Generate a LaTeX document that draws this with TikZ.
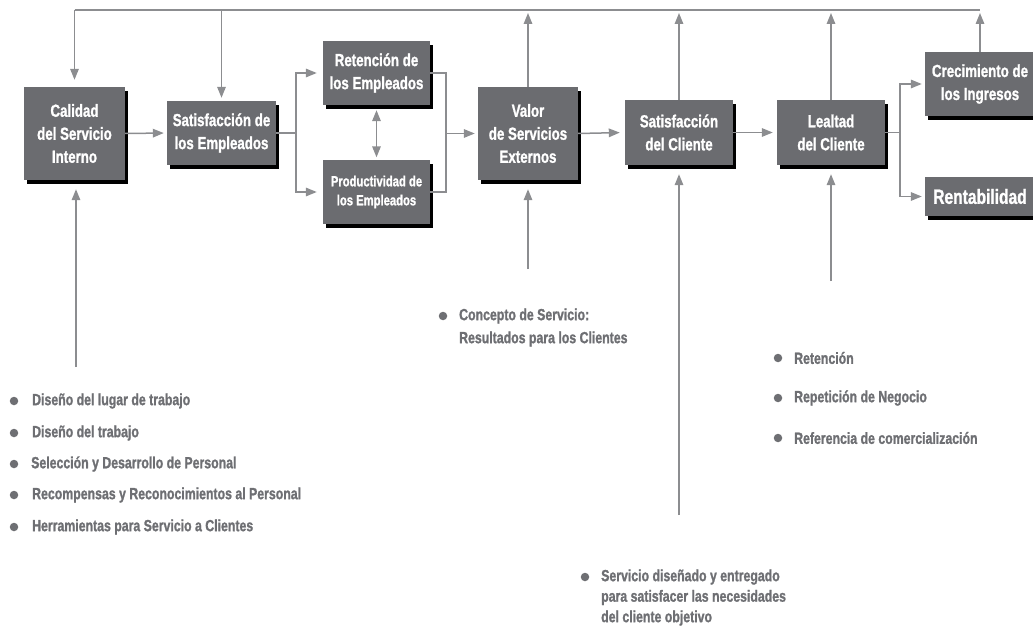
\documentclass[tikz,border=0pt]{standalone}
\usepackage{fontspec}
\newfontfamily\cond{Liberation Sans}[FakeStretch=0.76,BoldFeatures={FakeBold=1.2}]
\usetikzlibrary{arrows.meta,shadows}
\definecolor{boxgray}{HTML}{6B6C70}
\definecolor{linegray}{HTML}{8C8D90}
\definecolor{txtgray}{HTML}{6E6F73}
\begin{document}
\begin{tikzpicture}[x=1pt,y=-1pt,
  box/.style={fill=boxgray, text=white, inner sep=0pt, align=center,
    drop shadow={shadow xshift=3pt, shadow yshift=-4pt, fill=black, opacity=1},
    font={\cond\bfseries\fontsize{17.5}{23}\selectfont}},
  conn/.style={draw=linegray, line width=1.5pt},
  arr/.style={conn, -{Triangle[length=11pt,width=8.5pt]}},
  item/.style={anchor=west, text=txtgray, inner sep=0pt, align=left,
    font={\cond\bfseries\fontsize{16.2}{23}\selectfont}},
  dot/.style={circle, fill=txtgray, minimum size=8.5pt, inner sep=0pt}]
\useasboundingbox (0,0) rectangle (1033,631);
\clip (0,0) rectangle (1033,631);

% boxes
\node[box, minimum width=101pt, minimum height=93pt] (cal) at (74.5,133.5) {Calidad\\del Servicio\\Interno};
\node[box, minimum width=109pt, minimum height=64pt] (se) at (221.5,133) {Satisfacción de\\los Empleados};
\node[box, minimum width=107pt, minimum height=64pt] (ret) at (376.5,73) {Retención de\\los Empleados};
\node[box, minimum width=107pt, minimum height=63pt, font={\cond\bfseries\fontsize{14.8}{19}\selectfont}] (prod) at (376.5,192) {Productividad de\\los Empleados};
\node[box, minimum width=100pt, minimum height=93pt] (val) at (528,133.5) {Valor\\de Servicios\\Externos};
\node[box, minimum width=108pt, minimum height=65pt] (sc) at (679,132.5) {Satisfacción\\del Cliente};
\node[box, minimum width=108pt, minimum height=65pt] (lc) at (831,132.5) {Lealtad\\del Cliente};
\node[box, minimum width=110pt, minimum height=64pt] (cre) at (980,84) {Crecimiento de\\los Ingresos};
\node[box, minimum width=110pt, minimum height=39pt, font={\cond\bfseries\fontsize{20.5}{24}\selectfont}] (ren) at (980,196.5) {Rentabilidad};

% top feedback line
\coordinate (tl) at (74.5,10);
\coordinate (tr) at (980,10);
\draw[conn] (tl) -- (tr);
\draw[arr, shorten >=7pt] (tl) -- (cal.north);
\draw[arr, shorten >=3pt] (se.north |- tl) -- (se.north);
\draw[arr, shorten >=3pt] (val.north) -- (val.north |- tl);
\draw[arr, shorten >=3pt] (sc.north) -- (sc.north |- tl);
\draw[arr, shorten >=3pt] (lc.north) -- (lc.north |- tl);
\draw[arr, shorten >=3pt] (cre.north) -- (cre.north |- tl);

% main chain
\draw[arr, shorten >=3pt] (cal.east) -- (se.west);
\coordinate (s1) at (296,133);
\draw[conn] (se.east) -- (s1);
\draw[arr, shorten >=6pt] (s1) |- (ret.west);
\draw[arr, shorten >=6pt] (s1) |- (prod.west);
\draw[conn, shorten <=5pt, shorten >=3pt, {Triangle[length=11pt,width=8.5pt]}-{Triangle[length=11pt,width=8.5pt]}] (ret.south) -- (prod.north);
\coordinate (m1) at (446,133.5);
\draw[conn] (ret.east) -| (m1);
\draw[conn] (prod.east) -| (m1);
\draw[arr, shorten >=3pt] (m1) -- (val.west);
\draw[arr, shorten >=5pt] (val.east) -- (sc.west);
\draw[arr, shorten >=4pt] (sc.east) -- (lc.west);
\coordinate (b1) at (900,132.5);
\draw[conn] (lc.east) -- (b1);
\draw[arr, shorten >=3pt] (b1) |- (cre.west);
\draw[arr, shorten >=3pt] (b1) |- (ren.west);

% inputs from below
\coordinate (ic) at (76,367);
\coordinate (iv) at (528,269);
\coordinate (is) at (679,515);
\coordinate (il) at (831,281);
\draw[arr, shorten >=9pt] (ic) -- (ic |- cal.south);
\draw[arr, shorten >=9pt] (iv) -- (iv |- val.south);
\draw[arr, shorten >=9pt] (is) -- (is |- sc.south);
\draw[arr, shorten >=9pt] (il) -- (il |- lc.south);

% left list
\node[dot] (d1) at (14,401) {};
\node[item] (t1) at (32,401) {Diseño del lugar de trabajo};
\node[dot] (d2) at (14,433) {};
\node[item] (t2) at (32,433) {Diseño del trabajo};
\node[dot] (d3) at (14,464) {};
\node[item] (t3) at (31,464) {Selección y Desarrollo de Personal};
\node[dot] (d4) at (14,495) {};
\node[item] (t4) at (32,495) {Recompensas y Reconocimientos al Personal};
\node[dot] (d5) at (14,527) {};
\node[item] (t5) at (32,527) {Herramientas para Servicio a Clientes};

% concepto
\node[dot] (d6) at (443,316) {};
\node[item] (t6) at (459,327.5) {Concepto de Servicio:\\Resultados para los Clientes};

% servicio
\node[dot] (d7) at (585,577) {};
\node[item, font={\cond\bfseries\fontsize{16.2}{20.5}\selectfont}] (t7) at (601,597.5) {Servicio diseñado y entregado\\para satisfacer las necesidades\\del cliente objetivo};

% right list
\node[dot] (d8) at (778,358) {};
\node[item] (t8) at (794,358) {Retención};
\node[dot] (d9) at (778,398) {};
\node[item] (t9) at (794,398) {Repetición de Negocio};
\node[dot] (d10) at (778,438) {};
\node[item] (t10) at (794,438) {Referencia de comercialización};
\end{tikzpicture}
\end{document}
